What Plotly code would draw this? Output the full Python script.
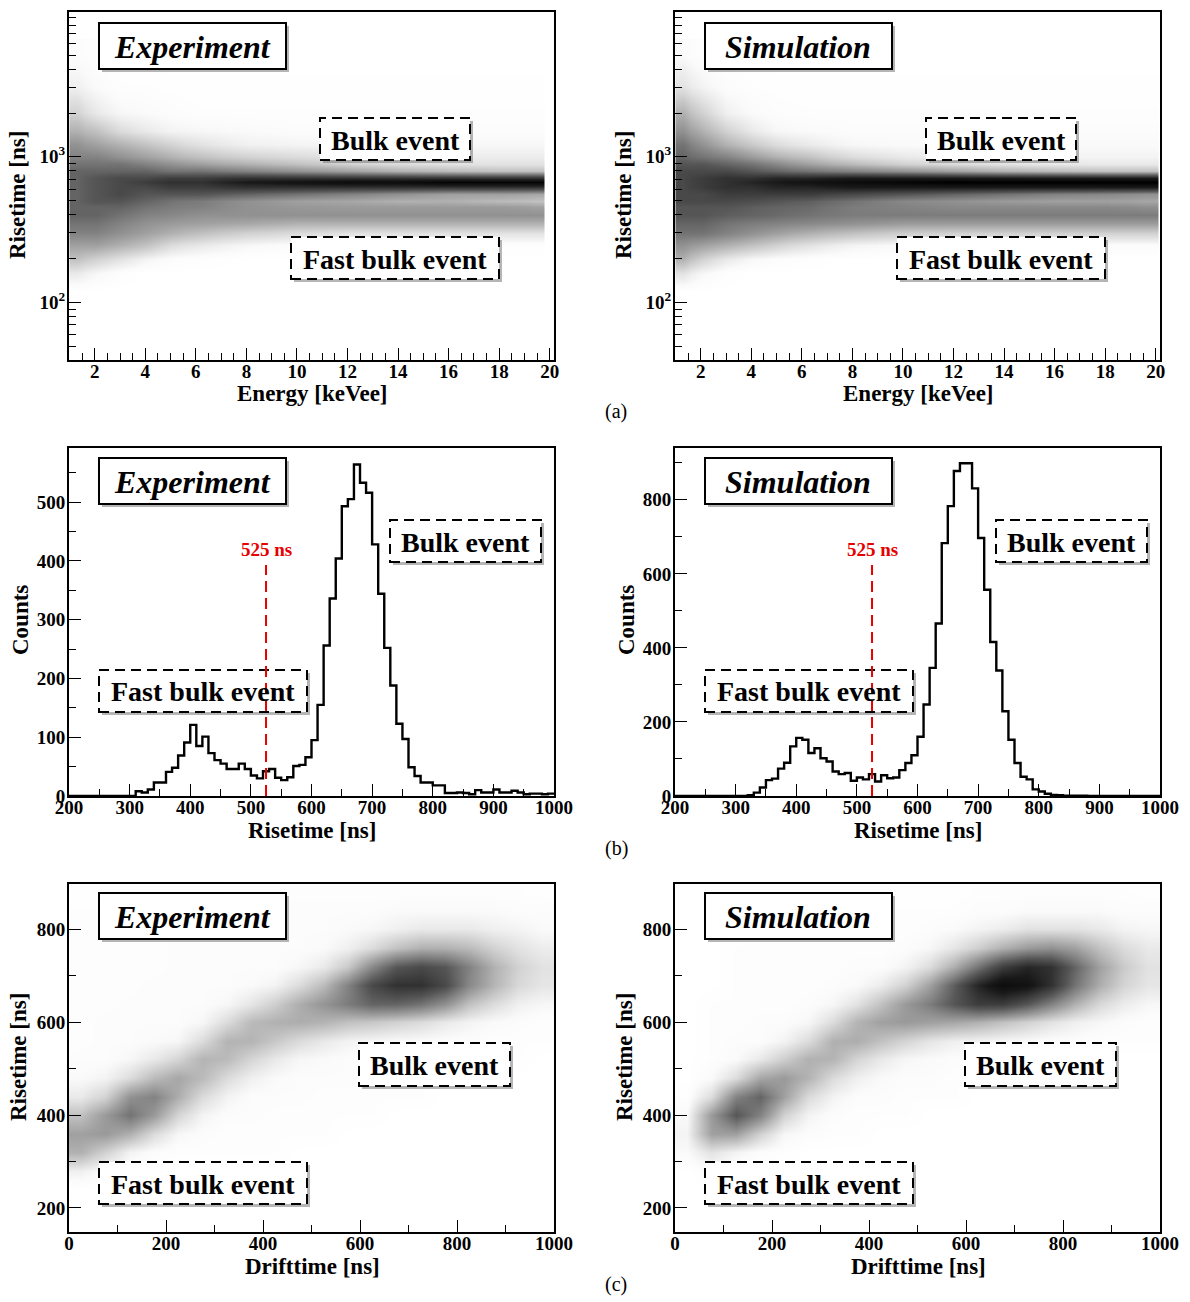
import plotly.graph_objects as go

SERIF = "Liberation Serif"
W, H = 1190, 1302

# ---------------- (b) risetime spectra: 10 ns bins from 200 to 1000 ns ----------------
RT_BIN_EDGES = list(range(200, 1001, 10))
exp_counts = [
    0, 0, 0, 0, 0, 0, 0, 0, 0, 0,                 # 200-290
    0, 8, 6, 11, 23, 23, 41, 48, 69, 91,          # 300-390
    121, 85, 101, 73, 61, 55, 46, 46, 55, 46,     # 400-490
    35, 30, 42, 46, 31, 27, 32, 51, 53, 66,       # 500-590
    95, 155, 256, 336, 404, 493, 505, 564, 533, 516,  # 600-690
    428, 344, 252, 188, 123, 97, 49, 34, 23, 23,  # 700-790
    18, 18, 5, 5, 6, 5, 3, 10, 6, 6,              # 800-890
    11, 6, 6, 9, 6, 3, 4, 4, 3, 4,                # 900-990
]
sim_counts = [
    0, 0, 0, 0, 0, 0, 0, 0, 0, 0,                 # 200-290
    0, 0, 2, 9, 23, 43, 47, 74, 90, 134,          # 300-390
    157, 152, 116, 129, 102, 93, 66, 59, 62, 41,  # 400-490
    50, 45, 59, 39, 56, 48, 50, 70, 89, 110,      # 500-590
    160, 247, 346, 466, 683, 783, 878, 899, 899, 831,  # 600-690
    697, 557, 416, 339, 229, 152, 89, 52, 45, 18,  # 700-790
    12, 6, 3, 2, 1, 1, 1, 1, 0, 0,                # 800-890
    0, 0, 0, 0, 0, 0, 0, 0, 0, 0,                 # 900-990
]
CUT_NS = 525

# ---------------- (a) event density in risetime vs energy ----------------
energy_edges_exp = [1.0, 1.6, 2.5, 3.5, 4.5, 5.5, 7, 9, 11, 13, 15, 17, 19, 19.8]
energy_edges_sim = [1.0, 1.6, 2.5, 3.5, 4.5, 5.5, 7, 9, 11, 13, 15, 17, 19, 20.1]
risetime_rows_a = [120, 160, 200, 250, 300, 350, 400, 450, 500, 560, 620, 670, 720,
                   800, 900, 1000, 1200, 1500, 2000, 3000, 5000]
exp_energy_density = [
    [0, 0, 0, 0, 0, 0, 0, 0, 0, 0, 0, 0, 0],
    [0.8, 0.4, 0.1, 0, 0, 0, 0, 0, 0, 0, 0, 0, 0],
    [2.0, 1.5, 1.0, 0.5, 0.2, 0.1, 0, 0, 0, 0, 0, 0, 0],
    [3.0, 3.0, 2.5, 2.0, 1.2, 0.8, 0.4, 0.2, 0.1, 0.1, 0.1, 0.1, 0.1],
    [4.0, 4.0, 3.5, 3.0, 2.5, 2.0, 1.5, 1.2, 1.0, 1.0, 1.0, 1.0, 1.0],
    [4.5, 4.5, 4.0, 3.5, 3.2, 3.0, 2.8, 2.5, 2.5, 2.5, 2.5, 2.5, 2.5],
    [5.0, 5.0, 4.5, 4.0, 3.8, 3.5, 3.5, 3.5, 3.5, 3.5, 3.5, 3.5, 3.5],
    [5.0, 5.0, 5.0, 4.5, 4.2, 4.0, 3.5, 3.3, 3.2, 3.2, 3.2, 3.2, 3.0],
    [5.0, 5.5, 5.5, 5.0, 4.5, 4.2, 3.5, 3.0, 2.8, 2.5, 2.5, 2.2, 2.0],
    [5.0, 5.5, 6.0, 5.5, 5.5, 5.5, 5.0, 4.5, 4.0, 3.5, 3.0, 3.0, 2.8],
    [5.0, 5.5, 6.0, 6.0, 6.5, 6.5, 7.0, 7.0, 7.0, 7.0, 7.0, 7.0, 7.0],
    [5.0, 5.5, 6.0, 6.5, 7.0, 7.0, 8.0, 8.5, 9.0, 9.0, 9.5, 9.5, 9.5],
    [5.0, 5.5, 6.0, 6.0, 6.5, 6.5, 7.0, 7.0, 7.0, 7.0, 7.0, 7.0, 7.0],
    [5.0, 5.0, 5.0, 5.0, 4.5, 4.5, 4.0, 3.5, 3.0, 2.5, 2.2, 2.0, 2.0],
    [4.5, 4.5, 4.5, 4.0, 3.5, 3.0, 2.5, 2.0, 1.5, 1.2, 1.0, 1.0, 1.0],
    [4.0, 4.0, 3.5, 3.0, 2.5, 2.0, 1.5, 1.2, 1.0, 0.8, 0.7, 0.7, 0.7],
    [3.5, 3.0, 2.5, 2.0, 1.5, 1.0, 0.6, 0.5, 0.4, 0.4, 0.4, 0.4, 0.4],
    [2.5, 2.0, 1.2, 0.8, 0.5, 0.4, 0.3, 0.2, 0.2, 0.2, 0.2, 0.2, 0.2],
    [1.5, 0.8, 0.4, 0.3, 0.2, 0.1, 0.1, 0.1, 0.1, 0.1, 0.1, 0.1, 0.1],
    [0.6, 0.3, 0.1, 0.1, 0.05, 0.05, 0.05, 0.05, 0.05, 0.05, 0.05, 0.05, 0.05],
    [0.2, 0.1, 0.05, 0, 0, 0, 0, 0, 0, 0, 0, 0, 0],
]
sim_energy_density = [
    [0, 0, 0, 0, 0, 0, 0, 0, 0, 0, 0, 0, 0],
    [1.0, 0.4, 0.1, 0, 0, 0, 0, 0, 0, 0, 0, 0, 0],
    [2.5, 1.5, 0.8, 0.4, 0.2, 0.1, 0, 0, 0, 0, 0, 0, 0],
    [3.5, 3.0, 2.5, 2.0, 1.5, 1.0, 0.5, 0.3, 0.2, 0.2, 0.2, 0.2, 0.2],
    [4.5, 4.5, 4.0, 3.5, 3.0, 2.5, 2.0, 1.6, 1.5, 1.5, 1.5, 1.5, 1.5],
    [5.0, 5.0, 4.5, 4.2, 4.0, 3.8, 3.5, 3.2, 3.2, 3.2, 3.2, 3.2, 3.2],
    [5.5, 5.5, 5.2, 5.0, 4.8, 4.5, 4.2, 4.2, 4.2, 4.2, 4.2, 4.2, 4.2],
    [5.5, 5.5, 5.5, 5.2, 5.0, 4.8, 4.2, 4.0, 3.8, 3.8, 3.8, 3.8, 3.6],
    [6.0, 6.0, 6.0, 5.8, 5.5, 5.2, 4.5, 3.8, 3.5, 3.2, 3.0, 3.0, 2.8],
    [6.0, 6.0, 6.5, 6.5, 6.5, 6.5, 6.0, 5.5, 5.0, 4.5, 4.0, 3.8, 3.5],
    [6.0, 6.5, 7.0, 7.0, 7.5, 7.5, 8.0, 8.0, 8.0, 8.0, 8.0, 8.0, 8.0],
    [6.0, 6.5, 7.0, 7.5, 8.0, 8.5, 9.0, 9.5, 10.0, 10.0, 10.0, 10.0, 10.0],
    [6.0, 6.5, 7.0, 7.0, 7.5, 7.5, 8.0, 8.0, 8.0, 8.0, 8.0, 8.0, 8.0],
    [6.0, 6.0, 6.0, 5.5, 5.0, 4.5, 4.0, 3.5, 3.0, 2.5, 2.2, 2.0, 2.0],
    [5.5, 5.5, 5.0, 4.5, 3.8, 3.0, 2.2, 1.5, 1.2, 1.0, 0.8, 0.8, 0.8],
    [5.0, 4.5, 4.0, 3.2, 2.5, 2.0, 1.2, 0.8, 0.6, 0.5, 0.5, 0.5, 0.5],
    [4.5, 3.5, 2.5, 1.8, 1.2, 0.8, 0.4, 0.3, 0.3, 0.3, 0.3, 0.3, 0.3],
    [3.5, 2.5, 1.5, 0.8, 0.4, 0.3, 0.2, 0.2, 0.2, 0.2, 0.2, 0.2, 0.2],
    [2.5, 1.5, 0.6, 0.3, 0.15, 0.1, 0.1, 0.1, 0.1, 0.1, 0.1, 0.1, 0.1],
    [1.0, 0.5, 0.2, 0.1, 0.05, 0.05, 0.05, 0.05, 0.05, 0.05, 0.05, 0.05, 0.05],
    [0.3, 0.1, 0.05, 0, 0, 0, 0, 0, 0, 0, 0, 0, 0],
]

# ---------------- (c) event density in risetime vs drifttime ----------------
drift_edges = list(range(0, 1001, 50))
risetime_rows_c = [240, 280, 320, 360, 400, 440, 480, 520, 560, 600, 640, 680, 720,
                   760, 800, 840, 880]
# one list per 50 ns drifttime column, values along risetime_rows_c
exp_drift_columns = [
    [0.0, 0.6, 2.5, 3.0, 2.0, 0.8, 0.3, 0.2, 0.1, 0.1, 0.1, 0.1, 0.1, 0.1, 0.1, 0.1, 0.05],
    [0.0, 0.2, 1.5, 3.2, 3.2, 1.5, 0.5, 0.2, 0.2, 0.2, 0.1, 0.1, 0.1, 0.1, 0.1, 0.1, 0.05],
    [0.0, 0.0, 0.5, 2.5, 4.5, 3.5, 1.2, 0.4, 0.2, 0.2, 0.2, 0.1, 0.1, 0.1, 0.1, 0.1, 0.05],
    [0.0, 0.0, 0.2, 1.2, 3.2, 4.0, 2.2, 0.8, 0.3, 0.2, 0.2, 0.2, 0.1, 0.1, 0.1, 0.1, 0.05],
    [0.0, 0.0, 0.1, 0.4, 1.4, 2.6, 2.8, 1.4, 0.4, 0.2, 0.2, 0.2, 0.2, 0.2, 0.1, 0.1, 0.05],
    [0.0, 0.0, 0.1, 0.2, 0.5, 1.2, 2.2, 2.4, 1.2, 0.4, 0.2, 0.2, 0.2, 0.2, 0.1, 0.1, 0.05],
    [0.0, 0.0, 0.1, 0.1, 0.2, 0.5, 1.2, 2.2, 2.4, 1.2, 0.4, 0.2, 0.2, 0.2, 0.2, 0.1, 0.1],
    [0.0, 0.0, 0.1, 0.1, 0.2, 0.2, 0.6, 1.4, 2.4, 2.2, 0.9, 0.3, 0.2, 0.2, 0.2, 0.1, 0.1],
    [0.0, 0.0, 0.1, 0.1, 0.1, 0.2, 0.3, 0.8, 1.8, 2.5, 1.6, 0.5, 0.2, 0.2, 0.2, 0.2, 0.1],
    [0.0, 0.0, 0.0, 0.1, 0.1, 0.2, 0.2, 0.4, 1.2, 2.6, 2.6, 1.2, 0.4, 0.2, 0.2, 0.2, 0.1],
    [0.0, 0.0, 0.0, 0.1, 0.1, 0.1, 0.2, 0.3, 0.8, 2.4, 3.4, 2.2, 0.8, 0.3, 0.2, 0.2, 0.1],
    [0.0, 0.0, 0.0, 0.0, 0.1, 0.1, 0.2, 0.2, 0.5, 2.0, 4.2, 4.0, 1.8, 0.6, 0.3, 0.2, 0.1],
    [0.0, 0.0, 0.0, 0.0, 0.1, 0.1, 0.1, 0.2, 0.4, 1.8, 5.0, 6.0, 3.8, 1.2, 0.4, 0.2, 0.1],
    [0.0, 0.0, 0.0, 0.0, 0.0, 0.1, 0.1, 0.2, 0.3, 1.5, 5.0, 7.0, 5.5, 2.0, 0.6, 0.3, 0.1],
    [0.0, 0.0, 0.0, 0.0, 0.0, 0.1, 0.1, 0.1, 0.3, 1.2, 4.5, 7.0, 6.0, 2.5, 0.8, 0.3, 0.1],
    [0.0, 0.0, 0.0, 0.0, 0.0, 0.0, 0.1, 0.1, 0.2, 0.8, 3.5, 6.0, 5.5, 2.5, 0.8, 0.3, 0.1],
    [0.0, 0.0, 0.0, 0.0, 0.0, 0.0, 0.1, 0.1, 0.2, 0.5, 2.0, 3.8, 4.0, 2.2, 0.8, 0.3, 0.1],
    [0.0, 0.0, 0.0, 0.0, 0.0, 0.0, 0.0, 0.1, 0.1, 0.3, 1.2, 2.4, 2.5, 1.5, 0.6, 0.3, 0.1],
    [0.0, 0.0, 0.0, 0.0, 0.0, 0.0, 0.0, 0.1, 0.1, 0.2, 0.6, 1.3, 1.5, 1.0, 0.5, 0.2, 0.1],
    [0.0, 0.0, 0.0, 0.0, 0.0, 0.0, 0.0, 0.0, 0.1, 0.1, 0.4, 0.9, 1.0, 0.7, 0.3, 0.2, 0.05],
]
sim_drift_columns = [
    [0.0, 0.0, 0.3, 0.5, 0.3, 0.1, 0.0, 0.0, 0.0, 0.0, 0.0, 0.0, 0.0, 0.0, 0.0, 0.0, 0.0],
    [0.0, 0.2, 1.0, 3.0, 3.2, 1.2, 0.3, 0.1, 0.1, 0.1, 0.1, 0.0, 0.0, 0.0, 0.0, 0.0, 0.0],
    [0.0, 0.0, 0.5, 3.0, 5.5, 4.0, 1.2, 0.3, 0.2, 0.1, 0.1, 0.1, 0.1, 0.1, 0.0, 0.0, 0.0],
    [0.0, 0.0, 0.2, 1.5, 4.0, 5.0, 2.8, 0.8, 0.2, 0.2, 0.1, 0.1, 0.1, 0.1, 0.1, 0.0, 0.0],
    [0.0, 0.0, 0.1, 0.4, 1.5, 3.0, 3.2, 1.6, 0.5, 0.2, 0.1, 0.1, 0.1, 0.1, 0.1, 0.1, 0.0],
    [0.0, 0.0, 0.0, 0.2, 0.5, 1.2, 2.4, 2.5, 1.2, 0.4, 0.2, 0.1, 0.1, 0.1, 0.1, 0.1, 0.05],
    [0.0, 0.0, 0.0, 0.1, 0.2, 0.5, 1.2, 2.4, 2.5, 1.2, 0.4, 0.2, 0.1, 0.1, 0.1, 0.1, 0.05],
    [0.0, 0.0, 0.0, 0.1, 0.1, 0.2, 0.6, 1.4, 2.6, 2.4, 1.0, 0.3, 0.2, 0.1, 0.1, 0.1, 0.05],
    [0.0, 0.0, 0.0, 0.0, 0.1, 0.2, 0.3, 0.8, 2.0, 3.0, 2.0, 0.7, 0.2, 0.1, 0.1, 0.1, 0.05],
    [0.0, 0.0, 0.0, 0.0, 0.1, 0.1, 0.2, 0.4, 1.4, 3.2, 3.2, 1.5, 0.5, 0.2, 0.1, 0.1, 0.05],
    [0.0, 0.0, 0.0, 0.0, 0.0, 0.1, 0.2, 0.3, 0.9, 3.0, 4.2, 3.0, 1.2, 0.4, 0.2, 0.1, 0.05],
    [0.0, 0.0, 0.0, 0.0, 0.0, 0.1, 0.1, 0.2, 0.6, 2.8, 5.5, 5.2, 2.6, 0.9, 0.3, 0.1, 0.05],
    [0.0, 0.0, 0.0, 0.0, 0.0, 0.0, 0.1, 0.2, 0.5, 2.5, 6.5, 7.5, 4.5, 1.6, 0.5, 0.2, 0.1],
    [0.0, 0.0, 0.0, 0.0, 0.0, 0.0, 0.1, 0.1, 0.4, 2.0, 6.5, 9.0, 6.5, 2.5, 0.7, 0.2, 0.1],
    [0.0, 0.0, 0.0, 0.0, 0.0, 0.0, 0.0, 0.1, 0.3, 1.5, 5.5, 8.5, 7.5, 3.2, 1.0, 0.3, 0.1],
    [0.0, 0.0, 0.0, 0.0, 0.0, 0.0, 0.0, 0.1, 0.2, 1.0, 4.0, 7.0, 7.0, 3.5, 1.0, 0.3, 0.1],
    [0.0, 0.0, 0.0, 0.0, 0.0, 0.0, 0.0, 0.1, 0.2, 0.6, 2.5, 4.5, 5.0, 3.0, 1.0, 0.3, 0.1],
    [0.0, 0.0, 0.0, 0.0, 0.0, 0.0, 0.0, 0.0, 0.1, 0.4, 1.3, 2.6, 3.0, 2.0, 0.8, 0.3, 0.1],
    [0.0, 0.0, 0.0, 0.0, 0.0, 0.0, 0.0, 0.0, 0.1, 0.2, 0.7, 1.4, 1.7, 1.2, 0.5, 0.2, 0.1],
    [0.0, 0.0, 0.0, 0.0, 0.0, 0.0, 0.0, 0.0, 0.1, 0.1, 0.4, 0.9, 1.0, 0.8, 0.4, 0.2, 0.05],
]


def columns_to_rows(cols):
    return [list(r) for r in zip(*cols)]


DENSITY_SCALE = [
    [0.0, "rgb(255,255,255)"], [0.03, "rgb(250,250,250)"], [0.1, "rgb(226,226,226)"],
    [0.3, "rgb(160,160,160)"], [0.55, "rgb(85,85,85)"], [0.8, "rgb(25,25,25)"],
    [1.0, "rgb(0,0,0)"],
]


def px(x):
    return x / W


def py(y):
    return 1 - y / H


fig = go.Figure()


def density(x, y, z, n):
    fig.add_trace(go.Heatmap(
        x=x, y=y, z=z, zmin=0, zmax=10, colorscale=DENSITY_SCALE, showscale=False,
        zsmooth="best", hoverinfo="skip", xaxis=f"x{n}", yaxis=f"y{n}"))


def spectrum(counts, n):
    fig.add_trace(go.Scatter(
        x=RT_BIN_EDGES, y=counts + [counts[-1]], mode="lines", line_shape="hv",
        line=dict(color="black", width=2.4), hoverinfo="skip", showlegend=False,
        xaxis=f"x{n}", yaxis=f"y{n}"))


density(energy_edges_exp, risetime_rows_a, exp_energy_density, 1)
density(energy_edges_sim, risetime_rows_a, sim_energy_density, 2)
spectrum(exp_counts, 3)
spectrum(sim_counts, 4)
density(drift_edges, risetime_rows_c, columns_to_rows(exp_drift_columns), 5)
density(drift_edges, risetime_rows_c, columns_to_rows(sim_drift_columns), 6)

# ---------------- axes ----------------
TICKFONT = dict(family=SERIF, size=19, color="black", weight="bold")
COL_X = [(69, 554), (675, 1160)]
ROW_Y = [(12, 360), (448, 796), (884, 1232)]


def minor(step):
    return dict(ticks="inside", ticklen=7, dtick=step, tick0=0, tickcolor="black", tickwidth=1)


def axis_common(**kw):
    d = dict(showline=True, linecolor="black", linewidth=2, mirror=True,
             ticks="inside", ticklen=12, tickwidth=1.3, tickcolor="black",
             showgrid=False, zeroline=False, tickfont=TICKFONT, automargin=False)
    d.update(kw)
    return d


log_minor = [k * 10 ** e for e in (1, 2, 3) for k in range(2, 10)]
layout_axes = {}
for n in range(1, 7):
    row, col = (n - 1) // 2, (n - 1) % 2
    xd = [px(COL_X[col][0]), px(COL_X[col][1])]
    yd = [py(ROW_Y[row][1]), py(ROW_Y[row][0])]
    if row == 0:
        xa = axis_common(range=[0.98, 20.17], tickvals=list(range(2, 21, 2)), minor=minor(0.5))
        ya = axis_common(type="log", range=[1.604, 3.995], tickvals=[100, 1000, 10000],
                         ticktext=["10<sup>2</sup>", "10<sup>3</sup>", "10<sup>4</sup>"],
                         minor=dict(ticks="inside", ticklen=7, tickvals=log_minor,
                                    tickcolor="black", tickwidth=1))
    elif row == 1:
        xa = axis_common(range=[200, 1000], dtick=100, tick0=0, minor=minor(50))
        if col == 0:
            ya = axis_common(range=[0, 592], dtick=100, tick0=0, minor=minor(50))
        else:
            ya = axis_common(range=[0, 940], dtick=200, tick0=0, minor=minor(100))
    else:
        xa = axis_common(range=[0, 1000], dtick=200, tick0=0, minor=minor(100))
        ya = axis_common(range=[148, 898], dtick=200, tick0=0, minor=minor(100))
    xa.update(domain=xd, anchor=f"y{n}", ticklabelstandoff=-7)
    ya.update(domain=yd, anchor=f"x{n}", ticklabelstandoff=-2)
    layout_axes["xaxis" if n == 1 else f"xaxis{n}"] = xa
    layout_axes["yaxis" if n == 1 else f"yaxis{n}"] = ya

# ---------------- labels, boxes and the cut line ----------------
annotations = []
shapes = []


def text(x, y, s, size, color="black", angle=0, family=SERIF):
    annotations.append(dict(x=px(x), y=py(y), xref="paper", yref="paper", text=s,
                            showarrow=False, xanchor="center", yanchor="middle",
                            textangle=angle, font=dict(family=family, size=size, color=color)))


TITLE_SIZE = 23
for col, dx in enumerate((0, 606)):
    text(312 + dx, 393, "<b>Energy [keVee]</b>", TITLE_SIZE)
    text(18 + dx, 195, "<b>Risetime [ns]</b>", TITLE_SIZE, angle=-90)
    text(312 + dx, 830, "<b>Risetime [ns]</b>", TITLE_SIZE)
    text(20 + dx, 620, "<b>Counts</b>", TITLE_SIZE, angle=-90)
    text(312 + dx, 1266, "<b>Drifttime [ns]</b>", TITLE_SIZE)
    text(18 + dx, 1057, "<b>Risetime [ns]</b>", TITLE_SIZE, angle=-90)

text(616, 411, "(a)", 20)
text(616, 848, "(b)", 20)
text(616, 1284, "(c)", 20)


def label_box(x0, y0, x1, y1, s, size, dashed):
    shapes.append(dict(type="rect", xref="paper", yref="paper",
                       x0=px(x0 + 3), x1=px(x1 + 3), y0=py(y1 + 3), y1=py(y0 + 3),
                       fillcolor="rgba(120,120,120,0.55)", line=dict(width=0)))
    shapes.append(dict(type="rect", xref="paper", yref="paper",
                       x0=px(x0), x1=px(x1), y0=py(y1), y1=py(y0), fillcolor="white",
                       line=dict(color="black", width=2, dash="10px,6px" if dashed else "solid")))
    text((x0 + x1) / 2, (y0 + y1) / 2 + 1, s, size)


for dx, name in ((0, "Experiment"), (606, "Simulation")):
    for y0 in (23, 458, 893):
        label_box(99 + dx, y0, 286 + dx, y0 + 46, f"<b><i>{name}</i></b>", 32, False)

BULK = "<b>Bulk event</b>"
FAST = "<b>Fast bulk event</b>"
for dx in (0, 606):
    label_box(320 + dx, 118, 470 + dx, 160, BULK, 28, True)
    label_box(291 + dx, 237, 499 + dx, 279, FAST, 28, True)
    label_box(390 + dx, 520, 541 + dx, 562, BULK, 28, True)
    label_box(99 + dx, 670, 307 + dx, 712, FAST, 28, True)
    label_box(359 + dx, 1043, 510 + dx, 1086, BULK, 28, True)
    label_box(99 + dx, 1162, 307 + dx, 1204, FAST, 28, True)

for n in (3, 4):
    shapes.append(dict(type="line", xref=f"x{n}", yref=f"y{n} domain",
                       x0=CUT_NS, x1=CUT_NS, y0=0, y1=0.664,
                       line=dict(color="rgb(230,0,0)", width=2, dash="11px,6px")))
    annotations.append(dict(x=CUT_NS, y=py(549), xref=f"x{n}", yref="paper",
                            text=f"<b>{CUT_NS} ns</b>", showarrow=False,
                            xanchor="center", yanchor="middle",
                            font=dict(family=SERIF, size=19, color="rgb(230,0,0)")))

fig.update_layout(
    width=W, height=H, autosize=False,
    margin=dict(l=0, r=0, t=0, b=0),
    paper_bgcolor="white", plot_bgcolor="white",
    showlegend=False,
    annotations=annotations, shapes=shapes,
    **layout_axes,
)

fig.write_html("out.html")
